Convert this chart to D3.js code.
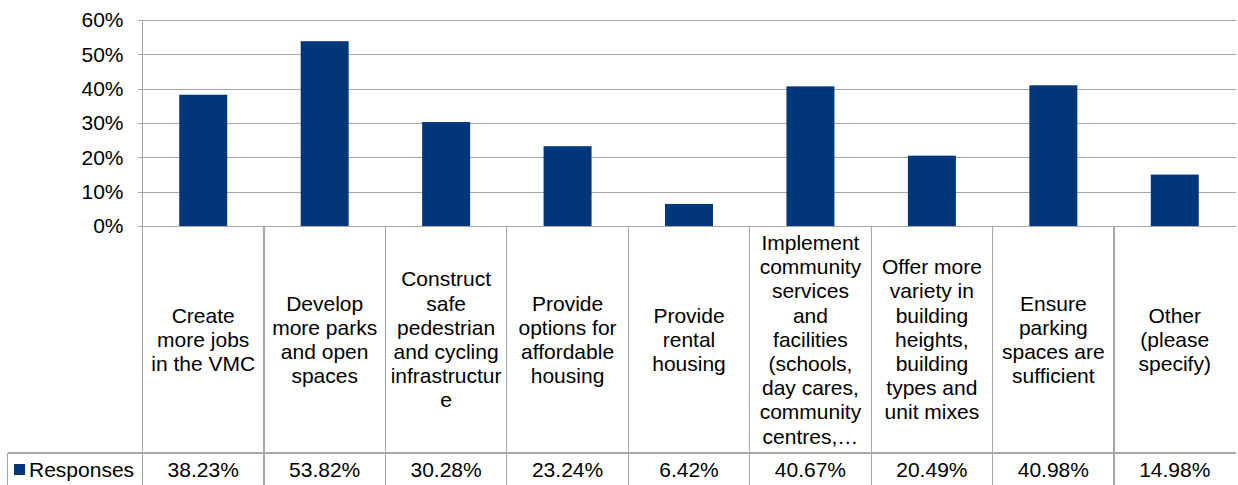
<!DOCTYPE html>
<html>
<head>
<meta charset="utf-8">
<script src="https://cdn.jsdelivr.net/npm/d3@7"></script>
<style>
  html, body { margin: 0; padding: 0; background: #fff; }
  svg { display: block; font-family: "Liberation Sans", Arial, sans-serif; }
</style>
</head>
<body>
<svg id="chart" width="1238" height="485"></svg>
<script>
// Survey categories (line breaks as shown in the table header cells)
const categories = [
  "Create\nmore jobs\nin the VMC",
  "Develop\nmore parks\nand open\nspaces",
  "Construct\nsafe\npedestrian\nand cycling\ninfrastructur\ne",
  "Provide\noptions for\naffordable\nhousing",
  "Provide\nrental\nhousing",
  "Implement\ncommunity\nservices\nand\nfacilities\n(schools,\nday cares,\ncommunity\ncentres,…",
  "Offer more\nvariety in\nbuilding\nheights,\nbuilding\ntypes and\nunit mixes",
  "Ensure\nparking\nspaces are\nsufficient",
  "Other\n(please\nspecify)"
];
const seriesName = "Responses";
const responses = [38.23, 53.82, 30.28, 23.24, 6.42, 40.67, 20.49, 40.98, 14.98];
const yTicks = [0, 10, 20, 30, 40, 50, 60];

const svg = d3.select("#chart");
const barColor = "#00367a";
const gridColor = "#a6a6a6";
const fontSize = 21;

const plotLeft = 142.5, plotRight = 1235.5;
const plotTop = 20, plotBottom = 226;
const labelBottom = 453;
const tableLeft = 7.5, tableBottom = 485;

const x = d3.scaleBand()
  .domain(d3.range(categories.length))
  .range([plotLeft, plotRight])
  .paddingInner(0)
  .paddingOuter(0);

const y = d3.scaleLinear()
  .domain([0, 60])
  .range([plotBottom, plotTop]);

// Horizontal gridlines with y-axis ticks
const yAxis = d3.axisLeft(y)
  .tickValues(yTicks)
  .tickSize(-(plotRight - plotLeft))
  .tickSizeOuter(0)
  .tickPadding(19)
  .tickFormat(d => d + "%");

const gy = svg.append("g")
  .attr("transform", `translate(${plotLeft},0)`)
  .call(yAxis);
gy.select(".domain").remove();
gy.selectAll(".tick line")
  .attr("stroke", gridColor)
  .attr("stroke-width", 1.3)
  .attr("x1", -5)
  .attr("shape-rendering", "crispEdges");
gy.selectAll(".tick text")
  .attr("fill", "#000")
  .attr("font-size", fontSize)
  .attr("font-family", "Liberation Sans, Arial, sans-serif");

// Bars
const barW = x.bandwidth() * 0.395;
svg.append("g")
  .selectAll("rect")
  .data(responses)
  .join("rect")
  .attr("x", (d, i) => x(i) + (x.bandwidth() - barW) / 2)
  .attr("y", d => y(d))
  .attr("width", barW)
  .attr("height", d => y(0) - y(d))
  .attr("fill", barColor);

// Table grid lines
const grid = svg.append("g")
  .attr("stroke", gridColor)
  .attr("stroke-width", 1.3)
  .attr("shape-rendering", "crispEdges");

// left axis line through plot and label area
grid.append("line")
  .attr("x1", plotLeft).attr("x2", plotLeft)
  .attr("y1", plotTop).attr("y2", tableBottom);

// vertical dividers between categories
grid.selectAll("line.div")
  .data(d3.range(1, categories.length))
  .join("line")
  .attr("class", "div")
  .attr("x1", i => x(i)).attr("x2", i => x(i))
  .attr("y1", plotBottom).attr("y2", tableBottom);

// data row top border and left edge
grid.append("line")
  .attr("x1", tableLeft).attr("x2", plotRight)
  .attr("y1", labelBottom).attr("y2", labelBottom);
grid.append("line")
  .attr("x1", tableLeft).attr("x2", tableLeft)
  .attr("y1", labelBottom).attr("y2", tableBottom);

// Category header text, vertically centred in each cell
const lineH = 24.2;
const labelMid = (plotBottom + labelBottom) / 2;
const labels = svg.append("g")
  .attr("font-size", fontSize)
  .attr("fill", "#000")
  .attr("text-anchor", "middle");

categories.forEach((c, i) => {
  const lines = c.split("\n");
  const cx = x(i) + x.bandwidth() / 2;
  const y0 = labelMid - (lines.length - 1) * lineH / 2;
  const t = labels.append("text");
  lines.forEach((ln, k) => {
    t.append("tspan")
      .attr("x", cx)
      .attr("y", y0 + k * lineH)
      .attr("dy", "0.35em")
      .text(ln);
  });
});

// Data row
const rowMid = (labelBottom + tableBottom) / 2 + 1;
svg.append("rect")
  .attr("x", 14).attr("y", rowMid - 6)
  .attr("width", 11).attr("height", 11)
  .attr("fill", barColor);
svg.append("text")
  .attr("x", 29).attr("y", rowMid)
  .attr("dy", "0.35em")
  .attr("font-size", fontSize)
  .attr("fill", "#000")
  .text(seriesName);

svg.append("g")
  .attr("font-size", fontSize)
  .attr("fill", "#000")
  .attr("text-anchor", "middle")
  .selectAll("text")
  .data(responses)
  .join("text")
  .attr("x", (d, i) => x(i) + x.bandwidth() / 2)
  .attr("y", rowMid)
  .attr("dy", "0.35em")
  .text(d => d.toFixed(2) + "%");
</script>
</body>
</html>
